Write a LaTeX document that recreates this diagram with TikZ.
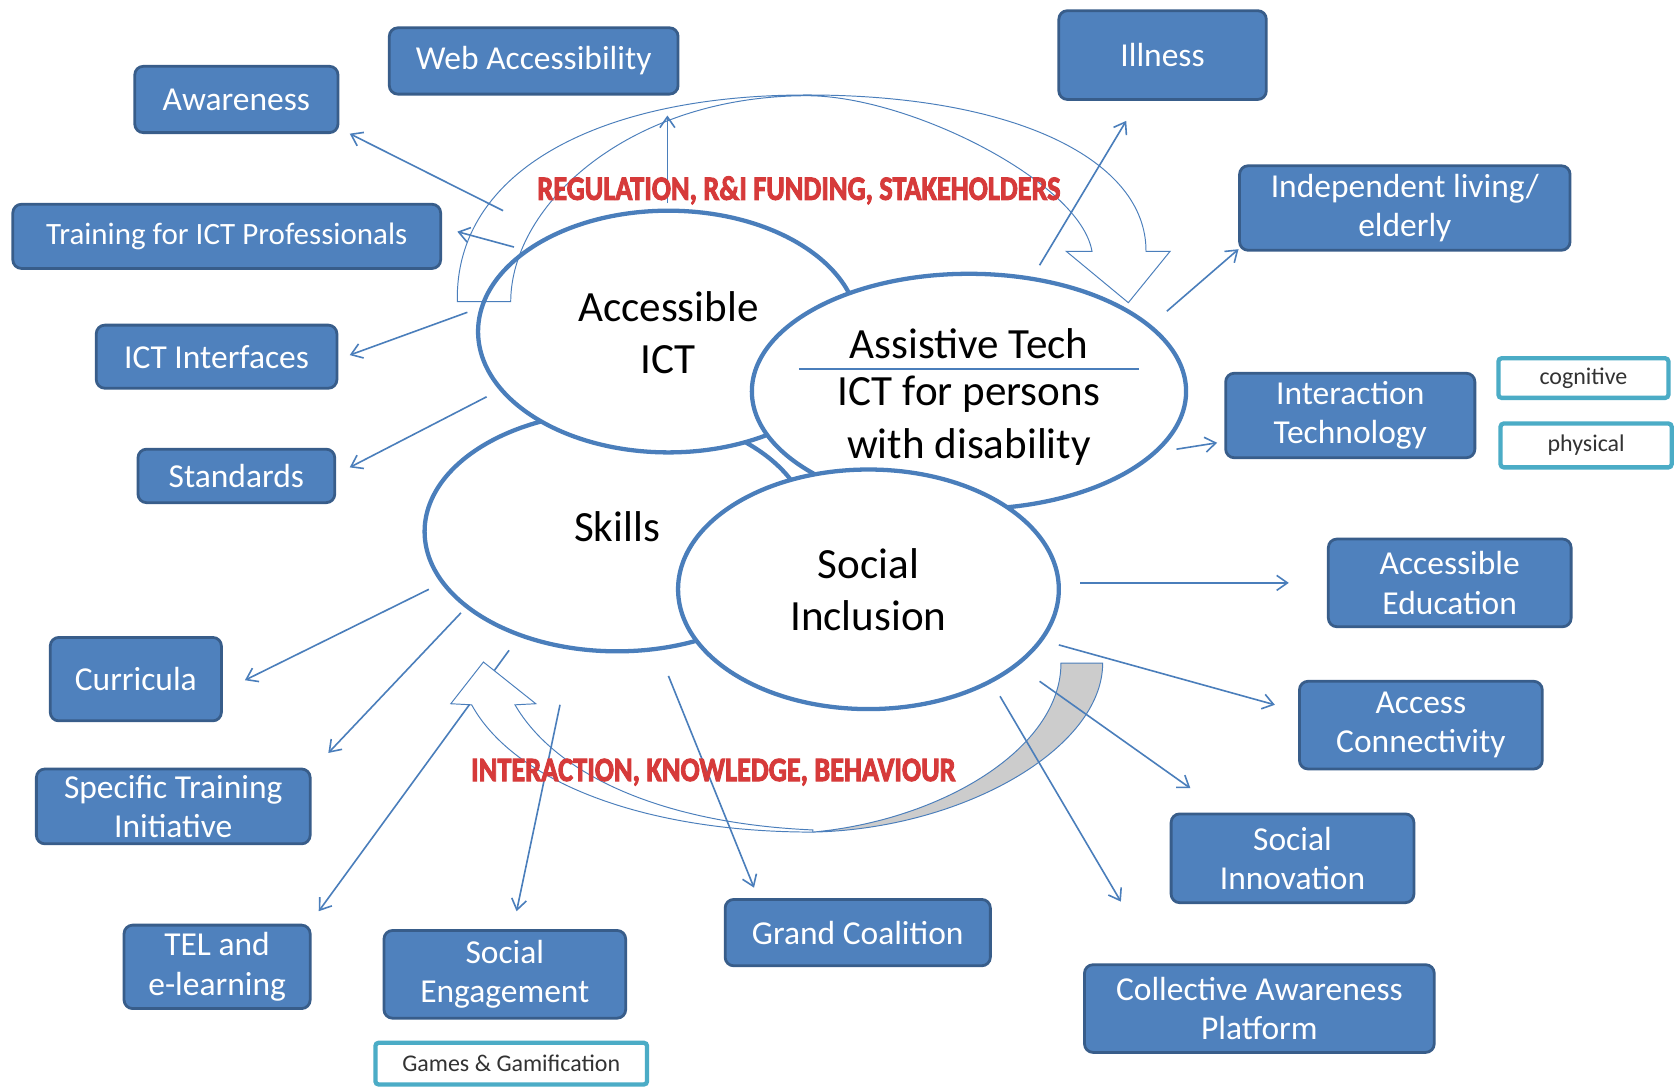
\documentclass[tikz,border=0pt]{standalone}
\usepackage{fontspec}
\setmainfont{Carlito}
\newfontfamily\redfam{Carlito}[UprightFont={* Bold}, UprightFeatures={FakeBold=3}]
\usetikzlibrary{arrows.meta,shapes.geometric}
\definecolor{boxfill}{HTML}{4F81BD}
\definecolor{boxedge}{HTML}{385D8A}
\definecolor{lineblue}{HTML}{4A7EBB}
\definecolor{tealedge}{HTML}{4BACC6}
\definecolor{redtxt}{HTML}{D63A3A}
\definecolor{shaftgray}{HTML}{CCCCCC}
\newcommand{\redword}[1]{\scalebox{1}[1.2]{#1}}
\begin{document}
\begin{tikzpicture}[x=1pt,y=-1pt,
  box/.style={draw=boxedge, line width=2.6pt, fill=boxfill, rounded corners=8pt, text=white, align=center, font=\fontsize{31.3}{37}\selectfont, inner sep=0pt},
  tealbox/.style={draw=tealedge, line width=4pt, fill=white, rounded corners=3pt, text=black!80, font=\fontsize{22.4}{26}\selectfont, inner sep=0pt},
  blob/.style={ellipse, draw=lineblue, line width=4pt, fill=white, inner sep=0pt},
  blobtext/.style={align=center, font=\fontsize{40.3}{49}\selectfont, text=black},
  conn/.style={draw=lineblue, line width=1.5pt, -{Straight Barb[length=10pt,width=14pt]}},
  bigarrow/.style={draw=lineblue, line width=0.9pt},
  redface/.style={font=\redfam\fontsize{26.5}{30}\selectfont, text=redtxt}
]
\fill[white] (0,0) rectangle (1568,1016);
\useasboundingbox (0,0) rectangle (1568,1016);

% ellipses
\node[blob, minimum width=360pt, minimum height=224pt] (skills) at (577,497) {};
\node[blob, minimum width=356pt, minimum height=226pt] (acc) at (625,310) {};
\node[blob, minimum width=406pt, minimum height=220pt] (assist) at (906,366) {};
\coordinate (rule-l) at (747,345);
\coordinate (rule-r) at (1065,345);
\draw[lineblue, line width=1.2pt] (rule-l) -- (rule-r);
\node[blob, minimum width=356pt, minimum height=224pt] (social) at (812,551) {};

\node[blobtext] (acc-t) at (625,311) {Accessible\\ICT};
\node[blobtext] (assist-t1) at (906,321) {Assistive Tech};
\node[blobtext] (assist-t2) at (906,393.5) {ICT for persons\\with disability};
\node[blobtext] (skills-t) at (577,492) {Skills};
\node[blobtext] (social-t) at (812,551.5) {Social\\Inclusion};

% top curved arrow (outline only)
\draw[bigarrow] (427.6,282) -- (477.5,282)
  .. controls (478,190) and (590,89.5) .. (754.6,89.5)
  .. controls (850,89.5) and (1010,170) .. (1021,235)
  -- (997,235) -- (1055,283) -- (1094,235) -- (1071.5,235)
  .. controls (1072,150) and (950,88.8) .. (754.6,88.8)
  .. controls (560,88.8) and (425,160) .. (427.6,282)
  -- cycle;

% connector hidden under the bottom arrow
\coordinate (tel-s) at (476,608);
\coordinate (tel-e) at (298,852);
\draw[conn] (tel-s) -- (tel-e);

% bottom curved arrow
\draw[bigarrow, fill=shaftgray] (992,620) -- (1031,620) .. controls (1031,700) and (900,775) .. (760,778) .. controls (880,767) and (992,700) .. (992,620) -- cycle;
\draw[bigarrow, fill=white] (760,778) .. controls (600,778) and (480,730) .. (441,659) -- (421.5,658) -- (452,619) -- (501,658) -- (481.5,659) .. controls (520,725) and (620,770) .. (760,776) -- cycle;

% boxes
\node[box, minimum width=270pt, minimum height=62pt] (web) at (499,57) {Web Accessibility};
\node[box, minimum width=190pt, minimum height=62pt] (aware) at (221,93) {Awareness};
\node[box, minimum width=194pt, minimum height=83pt] (illness) at (1087,51.5) {Illness};
\node[box, minimum width=400pt, minimum height=60pt, font=\fontsize{29}{36}\selectfont] (train) at (212,221) {Training for ICT Professionals};
\node[box, minimum width=309pt, minimum height=79pt] (indep) at (1313.5,194.5) {Independent living/\\elderly};
\node[box, minimum width=225pt, minimum height=59pt] (ictint) at (202.5,333.5) {ICT Interfaces};
\node[box, minimum width=233pt, minimum height=79pt] (interact) at (1262.5,388.5) {Interaction\\Technology};
\node[tealbox, minimum width=159pt, minimum height=37pt] (cognitive) at (1480.5,353.5) {cognitive};
\node[tealbox, minimum width=160pt, minimum height=41pt] (physical) at (1483,416.5) {physical};
\node[box, minimum width=184pt, minimum height=50pt] (standards) at (221,445) {Standards};
\node[box, minimum width=227pt, minimum height=82pt] (acced) at (1355.5,545) {Accessible\\Education};
\node[box, minimum width=160pt, minimum height=78pt] (curricula) at (127,635) {Curricula};
\node[box, minimum width=227pt, minimum height=82pt] (access) at (1328.5,678) {Access\\Connectivity};
\node[box, minimum width=256pt, minimum height=70pt] (specific) at (162,754) {Specific Training\\Initiative};
\node[box, minimum width=227pt, minimum height=83pt] (socinn) at (1208.5,802.5) {Social\\Innovation};
\node[box, minimum width=174pt, minimum height=78pt] (tel) at (203,904) {TEL and\\e-learning};
\node[box, minimum width=226pt, minimum height=82pt] (soceng) at (472,911) {Social\\Engagement};
\node[box, minimum width=248pt, minimum height=62pt] (grand) at (802,872) {Grand Coalition};
\node[box, minimum width=327pt, minimum height=82pt] (cap) at (1177.5,943) {Collective Awareness\\Platform};
\node[tealbox, minimum width=254pt, minimum height=39pt] (games) at (478,994.5) {Games \& Gamification};

% connectors
\coordinate (aw-s) at (470.4,197);   \coordinate (aw-e) at (327,125);
\coordinate (web-s) at (624,190);    \coordinate (web-e) at (624,108);
\coordinate (tr-s) at (480.6,231);   \coordinate (tr-e) at (427.6,216.6);
\coordinate (ii-s) at (437,292);     \coordinate (ii-e) at (327,332);
\coordinate (st-s) at (455,371);     \coordinate (st-e) at (327,437);
\coordinate (il-s) at (972,248);     \coordinate (il-e) at (1053,113);
\coordinate (in-s) at (1091,291);    \coordinate (in-e) at (1158,233);
\coordinate (it-s) at (1100,420);    \coordinate (it-e) at (1138,414);
\coordinate (ae-s) at (1010,545);    \coordinate (ae-e) at (1205,545);
\coordinate (ac-s) at (990,603);     \coordinate (ac-e) at (1192,659);
\coordinate (si-s) at (972,637);     \coordinate (si-e) at (1113,737);
\coordinate (ca-s) at (935,651);     \coordinate (ca-e) at (1048,843);
\coordinate (gc-s) at (625,632);     \coordinate (gc-e) at (705,830);
\coordinate (se-s) at (523.6,659);   \coordinate (se-e) at (483,852);
\coordinate (cu-s) at (401,551);     \coordinate (cu-e) at (229,636);
\coordinate (sp-s) at (431,573);     \coordinate (sp-e) at (307,704);

\draw[conn] (aw-s) -- (aw-e);
\draw[conn] (web-s) -- (web-e);
\draw[conn] (tr-s) -- (tr-e);
\draw[conn] (ii-s) -- (ii-e);
\draw[conn] (st-s) -- (st-e);
\draw[conn] (il-s) -- (il-e);
\draw[conn] (in-s) -- (in-e);
\draw[conn] (it-s) -- (it-e);
\draw[conn] (ae-s) -- (ae-e);
\draw[conn] (ac-s) -- (ac-e);
\draw[conn] (si-s) -- (si-e);
\draw[conn] (ca-s) -- (ca-e);
\draw[conn] (gc-s) -- (gc-e);
\draw[conn] (se-s) -- (se-e);
\draw[conn] (cu-s) -- (cu-e);
\draw[conn] (sp-s) -- (sp-e);

% red labels
\node[redface] (reg) at (747,178) {\redword{REGULATION, R\&I FUNDING, STAKEHOLDERS}};
\node[redface] (ikb) at (667,722) {\redword{INTERACTION, KNOWLEDGE, BEHAVIOUR}};
\end{tikzpicture}
\end{document}
